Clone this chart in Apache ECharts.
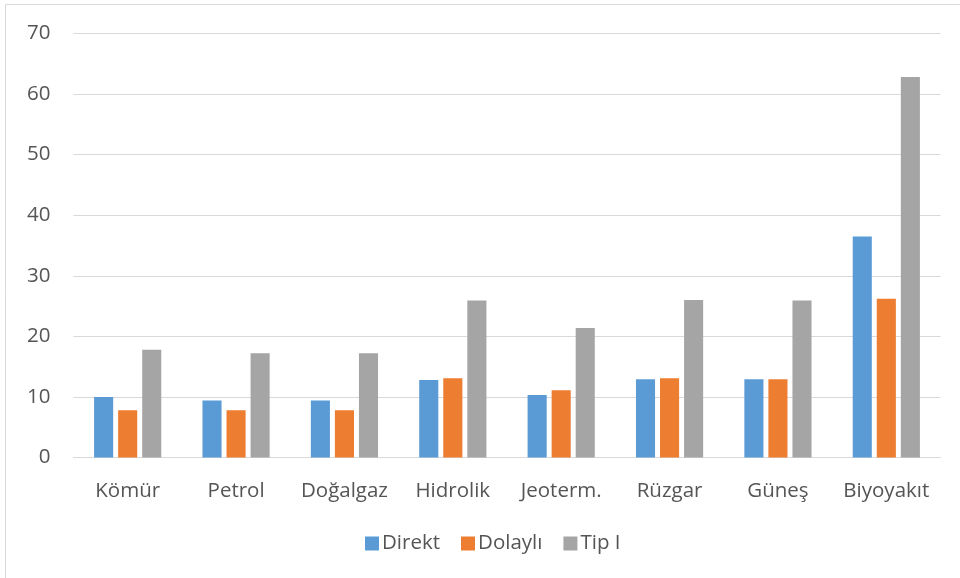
<!DOCTYPE html>
<html>
<head>
<meta charset="utf-8">
<script src="https://cdn.jsdelivr.net/npm/echarts@6/dist/echarts.min.js"></script>
<style>
  html, body { margin: 0; padding: 0; background: #ffffff; }
  #chart { width: 960px; height: 578px; }
</style>
</head>
<body>
<div id="chart"></div>
<script>
// Energy sources on the category axis
const categories = ['Kömür', 'Petrol', 'Doğalgaz', 'Hidrolik', 'Jeoterm.', 'Rüzgar', 'Güneş', 'Biyoyakıt'];

// Series values per source
const direkt  = [10.0, 9.4, 9.4, 12.8, 10.3, 12.9, 12.9, 36.5];
const dolayli = [7.8, 7.8, 7.8, 13.1, 11.1, 13.1, 12.9, 26.2];
const tipI    = [17.8, 17.2, 17.2, 25.9, 21.4, 26.0, 25.9, 62.8];

// Value axis range
const yMin = 0;
const yMax = 70;
const yStep = 10;

const textColor = '#555555';
const lineColor = '#d9d9d9';
const fontFamily = '"Open Sans", "Noto Sans", sans-serif';
const fontSize = 20.5;

const chart = echarts.init(document.getElementById('chart'), null, { renderer: 'canvas' });

function barSeries(name, data, color) {
  return {
    name: name,
    type: 'bar',
    data: data,
    barGap: '26%',
    barCategoryGap: '38%',
    itemStyle: { color: color },
    emphasis: { disabled: true }
  };
}

chart.setOption({
  animation: false,
  textStyle: { fontFamily: fontFamily },
  grid: { left: 73.5, right: 19.5, top: 33.5, bottom: 120.5, containLabel: false },
  graphic: [{
    type: 'polyline',
    shape: { points: [[5.5, 578], [5.5, 4.5], [960, 4.5]] },
    style: { stroke: lineColor, lineWidth: 1, fill: null },
    silent: true
  }],
  legend: {
    data: ['Direkt', 'Dolaylı', 'Tip I'],
    top: 528,
    left: 360,
    itemWidth: 14,
    itemHeight: 14,
    itemGap: 21,
    icon: 'rect',
    textStyle: { color: textColor, fontSize: fontSize, fontFamily: fontFamily, padding: [0, 0, 0, -2] }
  },
  xAxis: {
    type: 'category',
    data: categories,
    axisLine: { show: true, lineStyle: { color: lineColor, width: 1 } },
    axisTick: { show: false },
    axisLabel: { color: textColor, fontSize: fontSize, margin: 23, fontFamily: fontFamily, interval: 0 }
  },
  yAxis: {
    type: 'value',
    min: yMin,
    max: yMax,
    interval: yStep,
    axisLine: { show: false },
    axisTick: { show: false },
    axisLabel: { color: textColor, fontSize: fontSize, margin: 23, fontFamily: fontFamily },
    splitLine: { show: true, lineStyle: { color: lineColor, width: 1 } }
  },
  series: [
    barSeries('Direkt', direkt, '#5b9bd5'),
    barSeries('Dolaylı', dolayli, '#ed7d31'),
    barSeries('Tip I', tipI, '#a5a5a5')
  ]
});
</script>
</body>
</html>
